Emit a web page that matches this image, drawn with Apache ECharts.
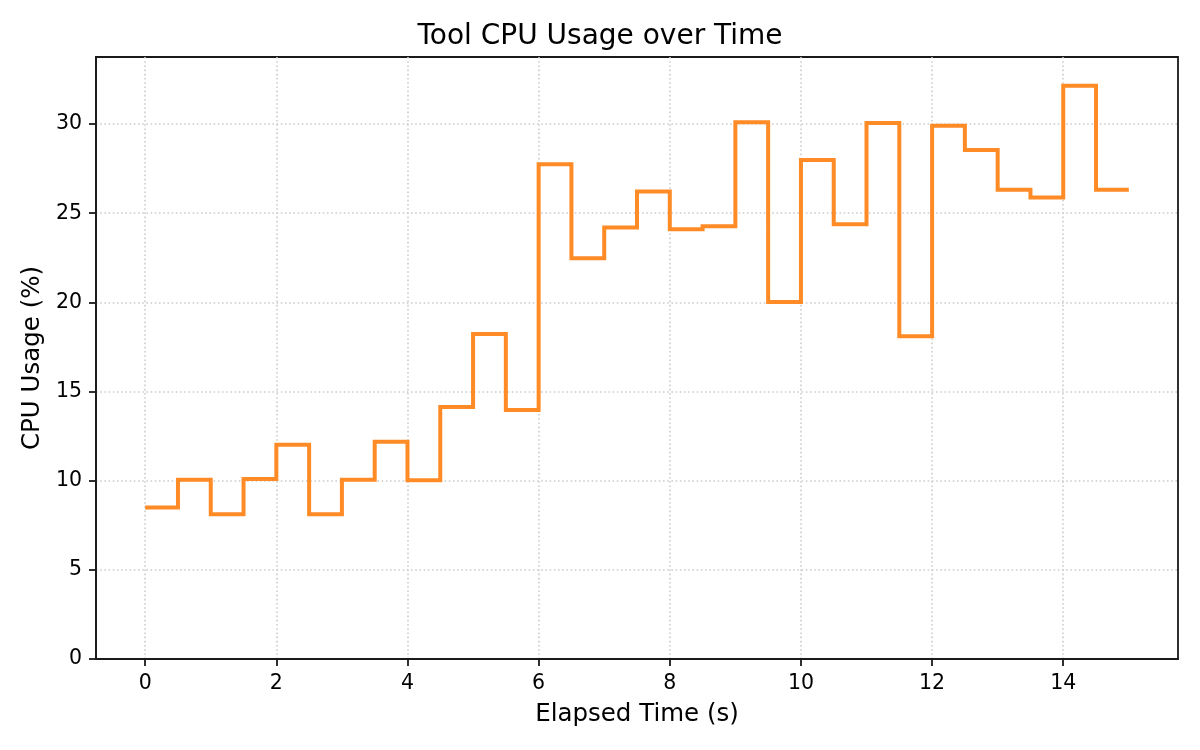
<!DOCTYPE html>
<html>
<head>
<meta charset="utf-8">
<title>Tool CPU Usage over Time</title>
<script src="https://cdn.jsdelivr.net/npm/echarts@6/dist/echarts.min.js"></script>
<style>
  html, body { margin: 0; padding: 0; background: #fff; }
  #main { width: 1200px; height: 750px; }
</style>
</head>
<body>
<div id="main"></div>
<script>
// elapsed time (s), one sample every 0.5 s
var elapsed = [0, 0.5, 1, 1.5, 2, 2.5, 3, 3.5, 4, 4.5, 5, 5.5, 6, 6.5, 7, 7.5,
  8, 8.5, 9, 9.5, 10, 10.5, 11, 11.5, 12, 12.5, 13, 13.5, 14, 14.5, 15];
// CPU usage (%)
var cpuUsage = [8.5, 10.05, 8.12, 10.1, 12.02, 8.12, 10.05, 12.18, 10.03, 14.13,
  18.22, 13.96, 27.74, 22.48, 24.2, 26.22, 24.1, 24.27, 30.1, 20.02,
  27.98, 24.38, 30.06, 18.1, 29.9, 28.55, 26.32, 25.88, 32.15, 26.32, 26.32];
var xTicks = [0, 2, 4, 6, 8, 10, 12, 14];
var yTicks = [0, 5, 10, 15, 20, 25, 30];

var seriesData = [];
for (var i = 0; i < elapsed.length; i++) {
  seriesData.push([elapsed[i], cpuUsage[i]]);
}

var font = 'DejaVu Sans';
var axisColor = '#1a1a1a';
var gridLine = { show: true, lineStyle: { color: '#cccccc', width: 1.6, type: [1.6, 2.6] } };

var myChart = echarts.init(document.getElementById('main'), null, { renderer: 'canvas' });
myChart.setOption({
  animation: false,
  backgroundColor: '#ffffff',
  title: {
    text: 'Tool CPU Usage over Time',
    left: 'center',
    top: 18,
    textStyle: { fontFamily: font, fontSize: 28, fontWeight: 'normal', color: '#000' }
  },
  grid: {
    left: 96, right: 22, top: 57, bottom: 91,
    show: true, borderColor: axisColor, borderWidth: 1.8, backgroundColor: 'transparent'
  },
  xAxis: {
    type: 'value',
    min: -0.75,
    max: 15.75,
    name: 'Elapsed Time (s)',
    nameLocation: 'middle',
    nameGap: 43,
    nameTextStyle: { fontFamily: font, fontSize: 24.5, color: '#000' },
    axisLine: { show: true, onZero: false, lineStyle: { color: axisColor, width: 1.8 } },
    axisTick: { show: true, length: 7, customValues: xTicks, lineStyle: { color: axisColor, width: 1.8 } },
    axisLabel: { customValues: xTicks, margin: 14, fontFamily: font, fontSize: 20.5, color: '#000' },
    splitLine: gridLine
  },
  yAxis: {
    type: 'value',
    min: 0,
    max: 33.76,
    name: 'CPU Usage (%)',
    nameLocation: 'middle',
    nameGap: 50,
    nameTextStyle: { fontFamily: font, fontSize: 24.5, color: '#000' },
    axisLine: { show: true, onZero: false, lineStyle: { color: axisColor, width: 1.8 } },
    axisTick: { show: true, length: 7, customValues: yTicks, lineStyle: { color: axisColor, width: 1.8 } },
    axisLabel: { customValues: yTicks, margin: 14, fontFamily: font, fontSize: 20.5, color: '#000' },
    splitLine: gridLine
  },
  series: [{
    type: 'line',
    step: 'end',
    data: seriesData,
    showSymbol: false,
    symbol: 'none',
    lineStyle: { color: '#ff8b26', width: 4, join: 'miter', cap: 'butt' },
    silent: true
  }]
});
</script>
</body>
</html>
